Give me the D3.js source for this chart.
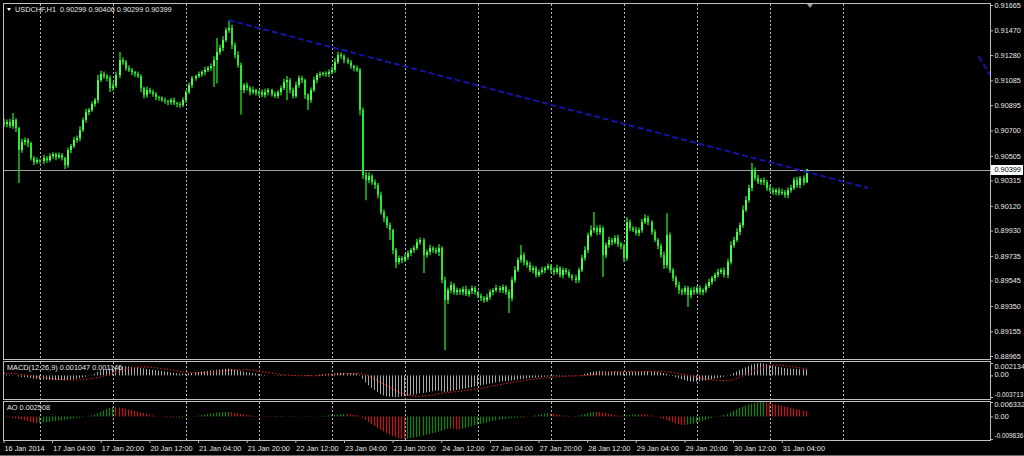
<!DOCTYPE html>
<html><head><meta charset="utf-8">
<script src="https://cdn.jsdelivr.net/npm/d3@7"></script>
<style>
html,body{margin:0;padding:0;background:#000;overflow:hidden;}
svg{display:block;}
</style></head><body>
<svg id="chart" width="1024" height="456"></svg>
<script>
// ---------------- DATA ----------------
const symbolTitle = "USDCHF,H1";
const lastOHLC = ["0.90299", "0.90406", "0.90299", "0.90399"];
// candle closes in points (1 point = 0.00001), one per H1 bar, 16 Jan 12:00 -> 31 Jan 12:00
const firstOpenPts = 90760;
const closePts = [
 90749,90765,90734,90780,90718,90549,90611,90626,90603,90488,
 90457,90472,90465,90488,90472,90503,90518,90495,90511,90488,
 90434,90549,90580,90626,90641,90703,90780,90841,90857,90903,
 90934,91088,91134,91118,91103,91026,91041,91126,91241,91226,
 91180,91165,91149,91134,91118,91026,90972,91011,90995,90980,
 90957,90949,90934,90926,90918,90934,90911,90903,90895,90934,
 90995,91049,91103,91118,91134,91149,91165,91180,91195,91241,
 91303,91334,91395,91472,91488,91357,91280,91203,91011,91049,
 91026,90995,91011,90988,90995,90972,90995,91011,90980,90965,
 90995,91026,91072,91088,91011,90965,91049,91103,91088,90972,
 90934,91011,91088,91126,91134,91141,91134,91149,91165,91226,
 91280,91272,91241,91226,91195,91180,91165,90857,90357,90318,
 90349,90303,90280,90203,90072,90026,89972,89934,89780,89688,
 89718,89703,89726,89757,89780,89795,89841,89857,89741,89765,
 89795,89780,89765,89795,89549,89395,89472,89511,89457,89472,
 89457,89480,89441,89465,89488,89457,89426,89411,89395,89418,
 89457,89472,89488,89472,89495,89457,89411,89549,89626,89703,
 89741,89688,89665,89626,89641,89588,89611,89626,89641,89657,
 89626,89611,89641,89588,89626,89611,89580,89565,89549,89626,
 89718,89780,89895,89934,89949,89918,89949,89741,89818,89857,
 89841,89872,89826,89811,89718,89995,89949,89934,89911,89934,
 89995,90026,89995,89918,89857,89811,89741,89665,89895,89626,
 89565,89511,89472,89457,89488,89434,89472,89457,89488,89457,
 89472,89503,89534,89565,89588,89611,89626,89588,89688,89818,
 89857,89918,89972,90088,90165,90257,90395,90334,90303,90318,
 90303,90257,90241,90226,90241,90218,90226,90203,90241,90257,
 90318,90280,90334,90299,90399];
// wick lengths in points above the body top / below the body bottom
const upperWickPts = [
 30,20,25,54,15,10,25,20,15,10, 15,20,10,25,15,20,15,10,20,15,
 10,20,15,25,20,30,20,25,15,20, 15,40,25,20,15,20,30,25,62,20,
 15,20,15,10,20,15,10,25,15,20, 15,10,15,20,10,15,20,10,15,20,
 15,20,15,10,20,15,25,15,20,30, 108,25,30,20,62,25,20,30,20,15,
 20,15,25,10,15,20,25,15,10,20, 15,20,25,30,15,20,25,20,15,10,
 15,20,25,15,20,10,15,20,25,30, 25,20,15,20,15,10,20,15,20,25,
 30,15,20,15,25,20,15,20,10,15, 20,15,25,20,15,20,25,20,15,20,
 25,15,20,30,15,25,20,25,15,20, 15,20,25,15,20,15,10,20,15,25,
 20,15,25,15,20,15,20,25,30,20, 77,20,15,25,20,15,20,25,15,20,
 15,20,25,15,20,15,20,15,25,20, 25,30,20,35,123,20,25,15,20,25,
 15,20,25,15,20,40,20,15,25,20, 25,30,20,15,20,15,20,25,169,20,
 15,20,25,15,20,15,20,25,15,20, 15,20,25,15,20,25,15,20,25,30,
 25,30,20,35,30,25,54,20,25,15, 20,15,25,20,15,20,25,15,20,25,
 20,25,15,20,7];
const lowerWickPts = [
 20,25,15,20,30,254,20,25,30,20, 25,15,20,25,20,15,20,25,15,20,
 30,20,25,15,20,25,15,20,25,15, 20,25,15,20,25,30,20,15,25,20,
 20,15,25,20,15,30,25,20,15,20, 25,20,15,20,25,20,15,25,20,15,
 20,15,25,20,15,20,25,15,20,160, 180,20,25,15,20,30,25,20,190,25,
 20,25,15,20,25,15,20,25,20,15, 20,25,15,140,25,20,15,20,25,30,
 77,20,15,25,20,15,20,25,15,20, 15,20,25,15,20,25,15,40,30,154,
 25,20,30,25,20,30,25,77,30,46, 20,25,15,20,25,20,15,20,138,20,
 25,20,15,30,25,385,30,25,20,25, 20,25,15,20,25,20,15,25,20,15,
 20,25,15,20,25,20,115,25,20,15, 20,25,20,15,25,20,15,20,25,15,
 20,25,15,20,25,20,15,20,25,20, 15,20,25,15,20,25,20,169,25,20,
 25,15,20,25,30,20,25,15,20,25, 20,15,25,20,15,25,20,30,25,20,
 25,20,30,25,20,92,25,20,15,20, 25,20,15,20,25,20,15,20,25,20,
 20,15,25,20,15,20,25,20,15,20, 25,20,15,20,25,20,15,20,25,20,
 15,20,25,20,0];
const bidPrice = 0.90399;
const priceDomain = [0.88965, 0.91665];
const priceTicks = [0.91665,0.91470,0.91280,0.91085,0.90895,0.90700,0.90505,0.90315,0.90120,0.89930,0.89735,0.89545,0.89350,0.89155,0.88965];
// time axis (bar index -> label)
const timeLabelBars = [0,16,32,48,64,80,96,112,128,144,160,176,192,208,224,240,256];
const timeLabels = ["16 Jan 2014","17 Jan 04:00","17 Jan 20:00","20 Jan 12:00","21 Jan 04:00","21 Jan 20:00","22 Jan 12:00","23 Jan 04:00","23 Jan 20:00","24 Jan 12:00","27 Jan 04:00","27 Jan 20:00","28 Jan 12:00","29 Jan 04:00","29 Jan 20:00","30 Jan 12:00","31 Jan 04:00"];
const gridBars = [12,36,60,84,108,132,156,180,204,228,252,276];
// MACD(12,26,9), values x 1e-5
const macdMainE5 = [
 20,15,10,5,0,-15,-25,-30,-35,-45, -55,-60,-65,-70,-72,-75,-78,-80,-80,-78,
 -82,-78,-72,-65,-58,-48,-35,-20,-5,10, 30,60,85,100,110,115,120,135,155,160,
 158,155,150,145,140,130,120,112,105,98, 90,82,75,68,60,52,45,38,30,28,
 30,35,42,50,58,65,72,78,85,90, 95,100,108,115,118,110,100,90,75,65,
 55,48,40,32,25,18,12,5,0,-5, -8,-10,-6,-2,-5,-10,-8,-4,-2,-8,
 -12,-8,0,8,15,20,24,28,30,34, 40,44,42,40,38,36,34,10,-60,-120,
 -170,-215,-250,-285,-320,-345,-360,-368,-371,-371, -368,-362,-355,-348,-340,-330,-318,-305,-300,-292,
 -282,-272,-262,-262,-270,-285,-280,-272,-262,-252, -242,-232,-222,-212,-202,-192,-182,-172,-162,-152,
 -142,-132,-122,-112,-104,-98,-95,-88,-80,-72, -64,-56,-50,-45,-40,-36,-32,-28,-24,-20,
 -16,-14,-12,-10,-8,-6,-5,-4,-2,0, 10,25,40,55,65,72,75,72,70,70,
 68,66,65,62,58,60,64,66,68,70, 72,75,76,74,68,60,50,40,30,10,
 -10,-30,-50,-65,-80,-95,-105,-110,-108,-100, -92,-85,-76,-66,-55,-45,-35,-22,-5,15,
 40,65,90,115,140,160,185,200,210,213, 205,195,182,170,158,146,135,128,122,118,
 114,110,108,106,105];
const macdSignalE5 = [
 40,38,35,30,25,20,12,5,0,-8, -15,-22,-30,-38,-45,-52,-58,-63,-68,-72,
 -75,-77,-78,-78,-77,-75,-72,-68,-62,-55, -45,-35,-22,-8,8,25,42,58,75,90,
 105,118,128,136,142,145,146,144,140,136, 130,124,117,110,102,94,86,78,70,62,
 55,50,46,44,44,45,47,50,54,59, 65,70,76,82,88,93,97,99,100,99,
 96,92,86,80,72,64,56,48,40,32, 25,18,12,8,4,0,-3,-5,-6,-6,
 -7,-7,-6,-5,-2,1,4,8,12,16, 20,24,28,30,32,34,35,35,26,12,
 -8,-32,-60,-90,-120,-150,-180,-210,-240,-265, -288,-308,-325,-338,-348,-355,-358,-358,-355,-350,
 -343,-335,-325,-315,-305,-298,-292,-287,-282,-277, -272,-266,-260,-254,-246,-238,-229,-220,-210,-200,
 -190,-180,-170,-160,-150,-140,-130,-121,-112,-104, -96,-88,-80,-73,-66,-59,-53,-47,-42,-37,
 -32,-28,-24,-21,-18,-15,-12,-10,-8,-6, -4,-1,3,8,14,21,30,38,46,54,
 60,64,66,67,67,66,66,65,65,65, 66,67,68,69,70,70,69,67,64,59,
 52,44,35,25,14,3,-8,-20,-32,-44, -54,-63,-71,-78,-84,-88,-90,-90,-87,-80,
 -70,-52,-32,-10,14,38,62,86,108,128, 146,160,170,176,178,177,173,167,160,152,
 144,136,128,121,115];
const macdDomain = [-0.003713, 0.002134];
const macdTicks = [0.002134, 0, -0.003713];
const macdTickLabels = ["0.002134", "0.00", "-0.003713"];
const macdTitle = "MACD(12,26,9) 0.001047 0.001146";
// Awesome Oscillator, values x 1e-5
const aoE5 = [
 -20,-30,-45,-60,-80,-100,-130,-160,-200,-240, -270,-285,-280,-265,-248,-230,-212,-195,-178,-160,
 -142,-124,-106,-88,-70,-50,-28,-5,20,50, 90,140,200,260,320,380,420,410,390,365,
 335,305,275,245,215,185,150,115,80,50, 25,5,-10,-20,-30,-38,-44,-48,-46,-40,
 -28,-15,0,18,40,62,85,105,125,145, 165,180,192,198,200,180,160,140,115,95,
 75,55,38,22,8,-5,-15,-22,-28,-30, -25,-28,-20,-12,-18,-22,-15,-8,-12,-18,
 -22,-14,-6,4,12,22,35,50,65,80, 92,100,104,100,90,78,60,20,-60,-150,
 -240,-330,-420,-500,-580,-650,-720,-790,-850,-900, -945,-975,-983,-972,-950,-925,-895,-865,-835,-800,
 -765,-730,-700,-665,-630,-580,-530,-520,-540,-560, -565,-530,-500,-465,-430,-395,-360,-325,-290,-255,
 -220,-190,-165,-140,-118,-100,-85,-72,-60,-50, -42,-48,-30,-10,15,45,75,105,130,150,
 140,120,95,70,50,35,22,15,20,40, 70,110,150,180,200,195,185,170,150,125,
 95,65,40,30,40,55,70,85,95,100, 98,90,75,50,20,-15,-55,-100,-150,-200,
 -250,-300,-340,-365,-372,-360,-340,-310,-275,-235, -195,-150,-105,-60,-15,10,30,70,120,180,
 245,310,370,425,475,520,560,595,618,630, 633,615,590,560,530,500,470,440,410,380,
 350,320,295,272,251];
const aoDomain = [-0.009836, 0.006332];
const aoTicks = [0.006332, 0, -0.009836];
const aoTickLabels = ["0.006332", "0.00", "-0.009836"];
const aoTitle = "AO 0.002508";
// trend lines: [bar index, price]
const trendLines = [
  [[74, 0.91549], [284.4, 0.90257]],
  [[320.8, 0.91270], [326, 0.91070]]
];
const shiftMarkerBar = 265.3;

// ---------------- DRAW ----------------
const W = 1024, H = 456;
const L = 3, R = 990;
const panels = {
  main: {top: 3, bot: 359},
  macd: {top: 361, bot: 399},
  ao:   {top: 401, bot: 440}
};
const FONT = "'Liberation Sans', Arial, sans-serif";
const FS = 7.3;
const TXT = "#e8e8e8";
const svg = d3.select("#chart");
svg.append("rect").attr("width", W).attr("height", H).attr("fill", "#000");

const x = d3.scaleLinear().domain([0, 325]).range([3.5, 991.5]);
const yP = d3.scaleLinear().domain(priceDomain).range([356, 5]);
const yM = d3.scaleLinear().domain(macdDomain).range([397, 363]);
const yA = d3.scaleLinear().domain(aoDomain).range([439, 402]);

const defs = svg.append("defs");
Object.entries(panels).forEach(([k, p]) => {
  defs.append("clipPath").attr("id", "clip-" + k).append("rect")
    .attr("x", L + 1).attr("y", p.top + 1).attr("width", R - L - 1).attr("height", p.bot - p.top - 1);
});

// grid lines
Object.entries(panels).forEach(([k, p]) => {
  svg.append("g").selectAll("line").data(gridBars).join("line")
    .attr("x1", d => Math.round(x(d)) + 0.5).attr("x2", d => Math.round(x(d)) + 0.5)
    .attr("y1", p.top + 1).attr("y2", p.bot)
    .attr("stroke", "#b4b4b4").attr("stroke-width", 1).attr("stroke-dasharray", "2,2");
});

// bid line
svg.append("line").attr("x1", L).attr("x2", R)
  .attr("y1", Math.round(yP(bidPrice)) + 0.5).attr("y2", Math.round(yP(bidPrice)) + 0.5)
  .attr("stroke", "#a0a0a0").attr("stroke-width", 1);

// candles
const candles = closePts.map((c, i) => {
  const o = i === 0 ? firstOpenPts : closePts[i - 1];
  const hi = Math.max(o, c) + upperWickPts[i];
  const lo = Math.min(o, c) - lowerWickPts[i];
  return {i, o: o / 1e5, c: c / 1e5, h: hi / 1e5, l: lo / 1e5};
});
const gc = svg.append("g").attr("clip-path", "url(#clip-main)");
gc.selectAll("line.wick").data(candles).join("line").attr("class", "wick")
  .attr("x1", d => Math.floor(x(d.i)) + 1).attr("x2", d => Math.floor(x(d.i)) + 1)
  .attr("y1", d => yP(d.h)).attr("y2", d => yP(d.l))
  .attr("stroke", "#22d422").attr("stroke-width", 1.4);
gc.selectAll("rect.body").data(candles).join("rect").attr("class", "body")
  .attr("x", d => Math.floor(x(d.i)))
  .attr("width", 2)
  .attr("y", d => yP(Math.max(d.o, d.c)))
  .attr("height", d => Math.max(1, Math.abs(yP(d.o) - yP(d.c))))
  .attr("fill", d => d.c >= d.o ? "#48ff48" : "#2ae82a");

// trend lines
const tl = d3.line().x(d => x(d[0])).y(d => yP(d[1]));
svg.append("g").attr("clip-path", "url(#clip-main)").selectAll("path").data(trendLines).join("path")
  .attr("d", tl).attr("fill", "none").attr("stroke", "#1414a8").attr("stroke-width", 2)
  .attr("stroke-dasharray", "6,3");

// MACD
const gm = svg.append("g").attr("clip-path", "url(#clip-macd)");
gm.selectAll("line").data(macdMainE5).join("line")
  .attr("x1", (d, i) => Math.floor(x(i)) + 0.5).attr("x2", (d, i) => Math.floor(x(i)) + 0.5)
  .attr("y1", yM(0)).attr("y2", d => yM(d / 1e5))
  .attr("stroke", "#a9a9a9").attr("stroke-width", 1);
gm.append("path").datum(macdSignalE5)
  .attr("d", d3.line().x((d, i) => x(i) + 0.5).y(d => yM(d / 1e5)))
  .attr("fill", "none").attr("stroke", "#f01818").attr("stroke-width", 1.1).attr("stroke-dasharray", "1.3,2");

// AO
const ga = svg.append("g").attr("clip-path", "url(#clip-ao)");
ga.selectAll("line").data(aoE5).join("line")
  .attr("x1", (d, i) => Math.floor(x(i)) + 0.5).attr("x2", (d, i) => Math.floor(x(i)) + 0.5)
  .attr("y1", yA(0)).attr("y2", d => yA(d / 1e5))
  .attr("stroke", (d, i) => (i > 0 && d > aoE5[i - 1]) ? "#0c850c" : "#c21414")
  .attr("stroke-width", 1.2);

// panel frames
Object.values(panels).forEach(p => {
  svg.append("rect").attr("x", L + 0.5).attr("y", p.top + 0.5)
    .attr("width", R - L).attr("height", p.bot - p.top)
    .attr("fill", "none").attr("stroke", "#c0c0c0").attr("stroke-width", 1);
});

// axes
function styleAxis(g) {
  g.select(".domain").remove();
  g.attr("font-family", FONT).attr("font-size", FS);
  g.selectAll(".tick line").attr("stroke", "#b8b8b8");
  g.selectAll(".tick text").attr("fill", TXT);
}
const axP = svg.append("g").attr("transform", `translate(${R},0)`)
  .call(d3.axisRight(yP).tickValues(priceTicks).tickSize(3).tickPadding(1.5).tickFormat(d3.format(".5f")));
styleAxis(axP);

const axM = svg.append("g").attr("transform", `translate(${R},0)`)
  .call(d3.axisRight(yM).tickValues(macdTicks).tickSize(3).tickPadding(1.5).tickFormat((d, i) => macdTickLabels[i]));
styleAxis(axM);
axM.selectAll(".tick text").attr("dy", (d, i) => i === 0 ? "0.75em" : i === 2 ? "-0.15em" : "0.15em")
  .attr("font-size", (d, i) => i === 2 ? 6.4 : FS);

const axA = svg.append("g").attr("transform", `translate(${R},0)`)
  .call(d3.axisRight(yA).tickValues(aoTicks).tickSize(3).tickPadding(1.5).tickFormat((d, i) => aoTickLabels[i]));
styleAxis(axA);
axA.selectAll(".tick text").attr("dy", (d, i) => i === 0 ? "0.6em" : i === 2 ? "-0.2em" : "0.32em")
  .attr("font-size", (d, i) => i === 2 ? 6.4 : FS);

const axX = svg.append("g").attr("transform", `translate(0,${panels.ao.bot})`)
  .call(d3.axisBottom(x).tickValues(timeLabelBars).tickSize(3).tickPadding(2.5).tickFormat((d, i) => timeLabels[i]));
styleAxis(axX);
axX.selectAll(".tick text").attr("text-anchor", "start").attr("dx", "0.5");

// bid price label
const by = yP(bidPrice);
svg.append("rect").attr("x", R + 1).attr("y", Math.round(by) - 5).attr("width", 32).attr("height", 10).attr("fill", "#fff");
svg.append("text").attr("x", R + 4.5).attr("y", by + 2.6).attr("font-family", FONT).attr("font-size", FS)
  .attr("fill", "#000").text(d3.format(".5f")(bidPrice));

// titles
svg.append("path").attr("d", "M7,8 L11,8 L9,11 Z").attr("fill", "#fff");
svg.append("text").attr("x", 15).attr("y", 11.5).attr("font-family", FONT).attr("font-size", FS)
  .attr("fill", TXT).attr("xml:space", "preserve").text(symbolTitle + "  " + lastOHLC.join(" "));
svg.append("text").attr("x", 7).attr("y", 369.5).attr("font-family", FONT).attr("font-size", FS)
  .attr("fill", TXT).text(macdTitle);
svg.append("text").attr("x", 7).attr("y", 409.5).attr("font-family", FONT).attr("font-size", FS)
  .attr("fill", TXT).text(aoTitle);

// chart shift marker
const sx = Math.round(x(shiftMarkerBar));
svg.append("path").attr("d", `M${sx - 3},4 L${sx + 3},4 L${sx},8 Z`).attr("fill", "#9a9a9a");

// window bottom edge
svg.append("line").attr("x1", 0).attr("x2", W).attr("y1", 455.5).attr("y2", 455.5).attr("stroke", "#6a6a6a");
</script>
</body></html>
